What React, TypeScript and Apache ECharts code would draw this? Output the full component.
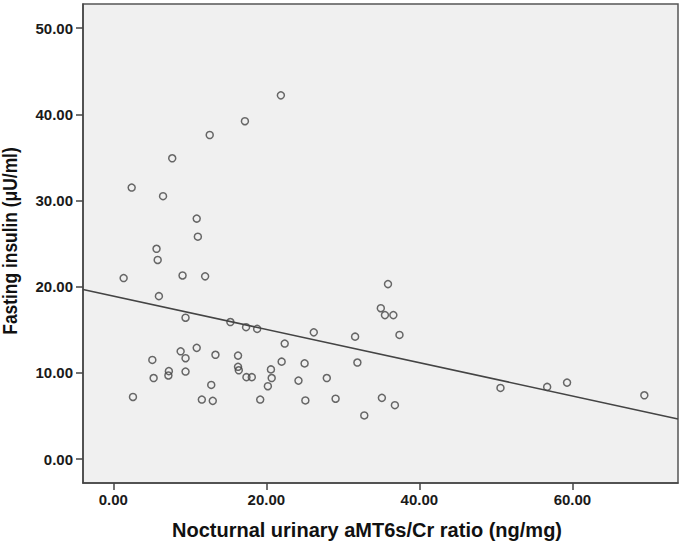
import React, { useEffect, useRef } from "react";
import * as echarts from "echarts";

const ratioValues = [
  1.35, 2.4, 2.57, 5.1, 5.27, 5.65, 5.8, 5.96, 6.5, 7.2, 7.26, 7.7, 8.8, 9.05, 9.44, 9.44,
  9.44, 10.9, 10.9, 11.05, 11.57, 12.0, 12.6, 12.8, 13.0, 13.35, 15.3, 16.3, 16.3, 16.4,
  17.2, 17.35, 17.4, 18.1, 18.8, 19.2, 20.2, 20.6, 20.7, 21.9, 22.0, 22.4, 24.2, 25.0,
  25.1, 26.2, 27.9, 29.05, 31.6, 31.9, 32.8, 34.96, 35.1, 35.5, 35.9, 36.6, 36.8, 37.4,
  50.6, 56.7, 59.3, 69.4,
];
const insulinValues = [
  21.0, 31.5, 7.2, 11.5, 9.4, 24.4, 23.1, 18.9, 30.5, 9.7, 10.2, 34.9, 12.5, 21.3, 16.4,
  11.7, 10.15, 27.9, 12.9, 25.8, 6.9, 21.2, 37.6, 8.6, 6.75, 12.1, 15.9, 12.0, 10.7, 10.3,
  39.2, 15.3, 9.5, 9.5, 15.1, 6.9, 8.45, 10.4, 9.4, 42.2, 11.3, 13.4, 9.1, 11.1, 6.8,
  14.7, 9.4, 7.0, 14.2, 11.2, 5.06, 17.5, 7.1, 16.7, 20.3, 16.7, 6.25, 14.4, 8.25, 8.37,
  8.87, 7.4,
];
const xTicks = [0, 20, 40, 60];
const yTicks = [0, 10, 20, 30, 40, 50];
const xRange = [-3.96, 73.8];
const yRange = [-2.78, 52.8];
const fitIntercept = 18.9;
const fitSlope = -0.193;

export default function App() {
  const ref = useRef<HTMLDivElement>(null);
  useEffect(() => {
    if (!ref.current) return;
    const chart = echarts.init(ref.current, null, { renderer: "svg" });
    const points = ratioValues.map((x, i) => [x, insulinValues[i]]);
    const fitLine = xRange.map((x) => [x, fitIntercept + fitSlope * x]);
    const font = "'Liberation Sans', Arial, sans-serif";
    const narrow = "'Liberation Sans Narrow', 'Arial Narrow', 'Liberation Sans', sans-serif";
    const labelStyle = {
      margin: 10,
      color: "#1a1a1a",
      fontWeight: "bold",
      fontSize: 15,
      fontFamily: narrow,
      formatter: (v: number) => v.toFixed(2),
    };
    chart.setOption({
      animation: false,
      backgroundColor: "#ffffff",
      grid: {
        left: 83,
        top: 4,
        right: 5,
        bottom: 61,
        show: true,
        backgroundColor: "#F0F0F0",
        borderColor: "#555555",
        borderWidth: 1.5,
      },
      xAxis: {
        type: "value",
        min: xRange[0],
        max: xRange[1],
        splitLine: { show: false },
        axisLine: { onZero: false, lineStyle: { color: "#444", width: 1.5 } },
        axisTick: { show: true, length: 7, customValues: xTicks, lineStyle: { color: "#444", width: 1.5 } },
        axisLabel: { ...labelStyle, customValues: xTicks, margin: 9 },
      },
      yAxis: {
        type: "value",
        min: yRange[0],
        max: yRange[1],
        splitLine: { show: false },
        axisLine: { show: true, onZero: false, lineStyle: { color: "#444", width: 1.5 } },
        axisTick: { show: true, length: 7, customValues: yTicks, lineStyle: { color: "#444", width: 1.5 } },
        axisLabel: { ...labelStyle, customValues: yTicks },
      },
      graphic: [
        {
          type: "text",
          x: 367,
          y: 530,
          style: {
            text: "Nocturnal urinary aMT6s/Cr ratio (ng/mg)",
            fill: "#111",
            font: `bold 20px ${font}`,
            textAlign: "center",
            textVerticalAlign: "middle",
          },
        },
        {
          type: "text",
          x: 10,
          y: 241,
          rotation: Math.PI / 2,
          scaleX: 0.87,
          style: {
            text: "Fasting insulin (μU/ml)",
            fill: "#111",
            font: `bold 20px ${font}`,
            textAlign: "center",
            textVerticalAlign: "middle",
          },
        },
      ],
      series: [
        {
          type: "line",
          data: fitLine,
          symbol: "none",
          lineStyle: { color: "#444", width: 1.6 },
          silent: true,
          z: 2,
        },
        {
          type: "scatter",
          data: points,
          symbol: "circle",
          symbolSize: 7,
          itemStyle: { color: "rgba(0,0,0,0)", borderColor: "#444", borderWidth: 1.5 },
          z: 3,
        },
      ],
    });
    return () => chart.dispose();
  }, []);
  return (
    <div
      ref={ref}
      style={{ position: "fixed", left: 0, top: 0, width: 683, height: 544 }}
    />
  );
}
